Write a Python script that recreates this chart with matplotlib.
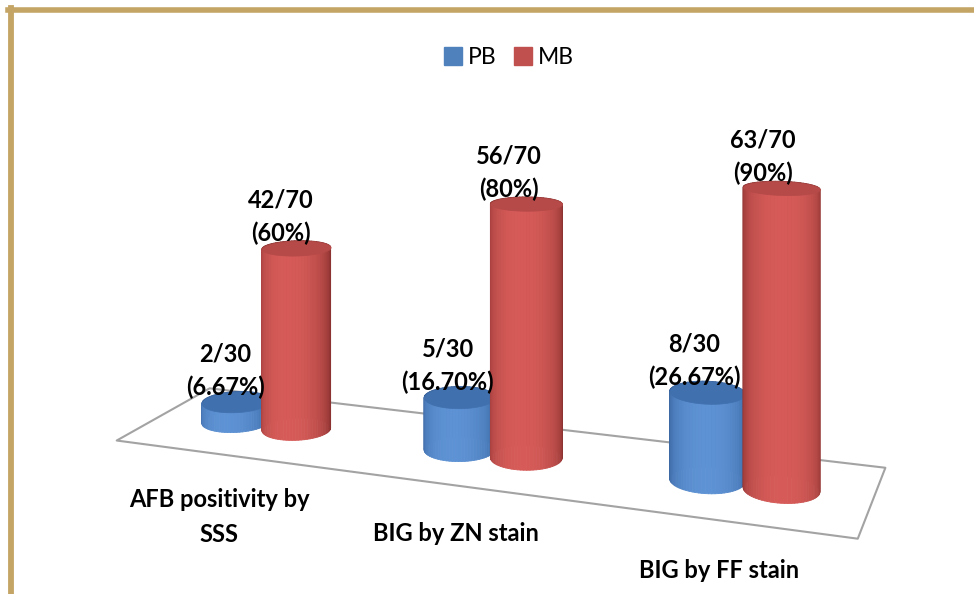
import numpy as np
import matplotlib.pyplot as plt
from matplotlib.lines import Line2D
from matplotlib.colors import to_rgb
from mpl_toolkits.mplot3d.art3d import Poly3DCollection

plt.rcParams['font.family'] = ['Lato', 'DejaVu Sans']

# data
categories = ['AFB positivity by\nSSS', 'BIG by ZN stain', 'BIG by FF stain']
series_names = ['PB', 'MB']
pb_values = [6.67, 16.70, 26.67]
mb_values = [60, 80, 90]
pb_labels = ['2/30\n(6.67%)', '5/30\n(16.70%)', '8/30\n(26.67%)']
mb_labels = ['42/70\n(60%)', '56/70\n(80%)', '63/70\n(90%)']

blue = '#4F81BD'
red = '#C0504D'

# view settings: level camera placed above the floor
ELEV, AZIM = 0, -70
R = 0.14          # cylinder radius (category units)
D = 0.37          # half depth of the floor
ZS = 0.0124       # category units per percent
xc, zc = 1.04, 182  # look-at point (camera height)
LX, LZ = 1.7, 182

fig = plt.figure(figsize=(9.74, 5.94), dpi=100)
S = 1419
w, h = S / 974, S / 594
cx, cy = 483 / 974, 1 + 101 / 594
ax = fig.add_axes([cx - w / 2, cy - h / 2, w, h], projection='3d',
                  computed_zorder=False)
ax.set_xlim(xc - LX, xc + LX)
ax.set_ylim(-0.5, 0.5)
ax.set_zlim(zc - LZ, zc + LZ)
ax.set_box_aspect((2 * LX, 1.0, 2 * LZ * ZS), zoom=1.0)
ax.view_init(elev=ELEV, azim=AZIM)
ax.set_proj_type('persp', focal_length=0.219)
ax.set_axis_off()

# floor
nx = len(categories)
floor = Poly3DCollection([[(-0.48, -D, 0), (nx - 0.53, -D, 0),
                           (nx - 0.53, D, 0), (-0.48, D, 0)]],
                         facecolors='white', edgecolors='#A3A3A3',
                         linewidths=1.5)
floor.set_zorder(1)
ax.add_collection3d(floor)


def cylinder(x0, hgt, dark, bright, cap, zo, n=72):
    th = np.linspace(0, 2 * np.pi, n + 1)
    light = np.deg2rad(AZIM - 8)
    dark, bright = np.array(to_rgb(dark)), np.array(to_rgb(bright))
    polys, cols = [], []
    for a0, a1 in zip(th[:-1], th[1:]):
        p0 = (x0 + R * np.cos(a0), R * np.sin(a0))
        p1 = (x0 + R * np.cos(a1), R * np.sin(a1))
        polys.append([(*p0, 0), (*p1, 0), (*p1, hgt), (*p0, hgt)])
        k = max(np.cos((a0 + a1) / 2 - light), 0) ** 0.8
        cols.append(dark + (bright - dark) * k)
    body = Poly3DCollection(polys, facecolors=cols, edgecolors=cols,
                            linewidths=0.6)
    body.set_zorder(zo)
    ax.add_collection3d(body)
    top = Poly3DCollection([[(x0 + R * np.cos(a), R * np.sin(a), hgt)
                             for a in th]],
                           facecolors=cap, edgecolors=cap, linewidths=0.5)
    top.set_zorder(zo + 0.5)
    ax.add_collection3d(top)


txt = dict(fontsize=17, fontweight='bold', zorder=30, ha='center')
for i in range(nx):
    cylinder(i - R, pb_values[i], '#345E98', '#5D92D4', '#4170AE', 10 + 2 * i)
    cylinder(i + R, mb_values[i], '#8C3331', '#D65B58', '#B54A48', 11 + 2 * i)
    ax.text(i - R - 0.05, 0, pb_values[i] + 0.5, pb_labels[i], va='bottom',
            linespacing=1.5, **txt)
    ax.text(i + R - 0.07, 0, mb_values[i] + 0.5, mb_labels[i], va='bottom',
            linespacing=1.5, **txt)
    ax.text(i - 0.01, -D, -11, categories[i], va='top', linespacing=1.6,
            **txt)

handles = [Line2D([], [], ls='', marker='s', markersize=13.5, color=c)
           for c in (blue, red)]
fig.legend(handles, series_names, loc='center', bbox_to_anchor=(0.5216, 0.904),
           ncol=2, frameon=False, fontsize=16.5, handletextpad=0.2,
           columnspacing=0.7, handlelength=0.9)

# frame
gold = '#C5A566'
fig.add_artist(Line2D([8 / 974, 1], [1 - 9.5 / 594] * 2, color=gold, lw=4))
fig.add_artist(Line2D([11 / 974] * 2, [0, 1 - 7.5 / 594], color=gold, lw=4.2))

fig.savefig('out.png', dpi=100)
